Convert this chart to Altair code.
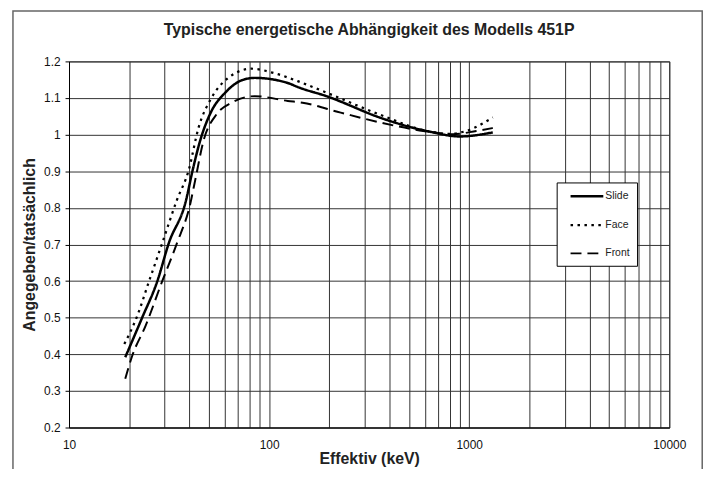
import altair as alt
import pandas as pd

# ---- data ----
series_names = ["Slide", "Face", "Front"]

energy_slide = [19.1, 23.2, 27.6, 31.5, 38.5, 41.1, 45.2, 51.6, 60.2, 72.7, 84.7, 124, 139, 203, 219, 360, 637, 896, 1312]
ratio_slide = [0.392, 0.500, 0.599, 0.703, 0.822, 0.893, 0.983, 1.065, 1.114, 1.148, 1.155, 1.141, 1.130, 1.101, 1.094, 1.046, 1.008, 0.995, 1.006]

energy_face = [18.9, 21.9, 25.1, 29.2, 34.6, 39.6, 44.4, 51.6, 62.5, 81.5, 106, 139, 203, 360, 637, 800, 968, 1312]
ratio_face = [0.428, 0.504, 0.599, 0.703, 0.821, 0.902, 1.019, 1.101, 1.155, 1.180, 1.168, 1.146, 1.110, 1.054, 1.008, 1.002, 1.010, 1.047]

energy_front = [19.1, 20.7, 24.1, 29.2, 34.6, 40.4, 42.7, 47.0, 54.7, 64.9, 84.7, 124, 147, 228, 360, 590, 831, 1085, 1312]
ratio_front = [0.333, 0.396, 0.477, 0.599, 0.703, 0.812, 0.875, 0.983, 1.056, 1.087, 1.105, 1.092, 1.087, 1.060, 1.033, 1.010, 1.001, 1.010, 1.018]

x_ticks = [10, 20, 30, 40, 50, 60, 70, 80, 90,
           100, 200, 300, 400, 500, 600, 700, 800, 900,
           1000, 2000, 3000, 4000, 5000, 6000, 7000, 8000, 9000, 10000]
x_labels = [10, 100, 1000, 10000]
y_ticks = [0.2, 0.3, 0.4, 0.5, 0.6, 0.7, 0.8, 0.9, 1.0, 1.1, 1.2]

rows = []
for name, es, vs in zip(series_names,
                        [energy_slide, energy_face, energy_front],
                        [ratio_slide, ratio_face, ratio_front]):
    for e, v in zip(es, vs):
        rows.append({"Serie": name, "E": e, "V": v})
df = pd.DataFrame(rows)

FONT = "Liberation Sans"

legend = alt.Legend(
    title=None, orient="none", legendX=491.5, legendY=122,
    fillColor="white", strokeColor="black", padding=7,
    symbolType="M0,0H6", symbolSize=121, labelOffset=28,
    labelFontSize=10.5, labelFont=FONT, labelColor="#222", rowPadding=16,
    labelExpr="datum.label + '\u00a0\u00a0\u00a0\u00a0\u00a0'",
)

lines = alt.Chart(df).mark_line(interpolate="monotone", color="black").encode(
    x=alt.X("E:Q",
            scale=alt.Scale(type="log", domain=[10, 10000], nice=False),
            axis=alt.Axis(values=x_ticks, grid=True, ticks=False,
                          labelExpr="indexof(" + str(x_labels) + ", datum.value) >= 0 ? format(datum.value, 'd') : ''",
                          labelFontSize=12, labelFont=FONT, labelColor="#111", labelPadding=12,
                          labelFlush=False, labelOverlap=False,
                          title="Effektiv (keV)", titleFont=FONT, titleFontSize=16,
                          titleFontWeight="bold", titleColor="#222", titlePadding=0)),
    y=alt.Y("V:Q",
            scale=alt.Scale(domain=[0.2, 1.2], nice=False, zero=False),
            axis=alt.Axis(values=y_ticks, grid=True, format="~g", tickSize=4, tickColor="black",
                          labelFontSize=12, labelFont=FONT, labelColor="#111", labelPadding=5,
                          title="Angegeben/tatsächlich", titleFont=FONT, titleFontSize=16,
                          titleFontWeight="bold", titleColor="#222", titlePadding=6)),
    strokeDash=alt.StrokeDash("Serie:N",
                              scale=alt.Scale(domain=series_names, range=[[1, 0], [2.5, 4.5], [11, 6]]),
                              legend=legend),
    strokeWidth=alt.StrokeWidth("Serie:N",
                                scale=alt.Scale(domain=series_names, range=[2.5, 2, 2]),
                                legend=legend),
)

frame = alt.Chart(alt.Data(values=[{}])).mark_rect(
    fillOpacity=0, stroke="#666", strokeWidth=1.5
).encode(
    x=alt.value(-56.5), x2=alt.value(638.2), y=alt.value(-50.7), y2=alt.value(440)
)

chart = alt.layer(frame, lines).properties(
    width=605, height=369,
    title=alt.TitleParams(text="Typische energetische Abhängigkeit des Modells 451P",
                          font=FONT, fontSize=16, fontWeight="bold", color="#222",
                          anchor="middle", offset=0, baseline="bottom", dy=44),
    autosize=alt.AutoSizeParams(type="none"),
    padding={"left": 61.5, "top": 52, "right": 36, "bottom": 40},
).configure_view(stroke="#333").configure_axis(
    gridColor="#333", gridWidth=1, domainColor="black", gridOpacity=1
)

chart.save("out.html", embed_options={"renderer": "svg", "actions": False})
